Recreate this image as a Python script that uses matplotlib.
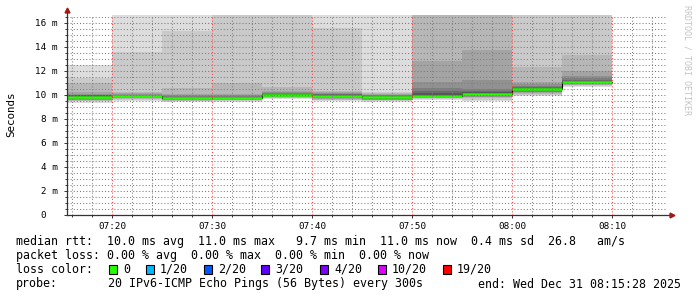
import matplotlib
matplotlib.use("Agg")
import matplotlib.pyplot as plt
from matplotlib.patches import Rectangle
import numpy as np

plt.rcParams['font.family'] = ['DejaVu Sans Mono']

W, H = 697, 297

# ---- data -------------------------------------------------------------
# end of each 5-minute step, minutes after 07:00
interval_end_min = [20, 25, 30, 35, 40, 45, 50, 55, 60, 65, 70]
step_minutes = 5
# sorted RTTs of the 20 pings per step (ms); values above the axis top are clipped
pings_ms = [
    [9.35, 9.45, 9.5, 9.55, 9.6, 9.65, 9.7, 9.74, 9.78, 9.82, 9.88, 9.92, 9.95, 9.98, 10.02, 10.08, 10.2, 11.0, 11.4, 12.5],
    [9.5, 9.58, 9.64, 9.7, 9.74, 9.78, 9.8, 9.82, 9.84, 9.86, 9.88, 9.9, 9.93, 9.96, 10.0, 10.05, 10.12, 10.2, 13.6, 17.5],
    [9.38, 9.45, 9.5, 9.55, 9.58, 9.6, 9.63, 9.65, 9.67, 9.69, 9.71, 9.74, 9.78, 9.82, 9.88, 9.95, 10.1, 10.55, 15.3, 17.8],
    [9.4, 9.48, 9.53, 9.57, 9.6, 9.63, 9.66, 9.68, 9.7, 9.72, 9.74, 9.77, 9.8, 9.85, 9.9, 10.0, 10.1, 10.95, 17.0, 18.5],
    [9.63, 9.7, 9.76, 9.8, 9.85, 9.88, 9.92, 9.95, 9.97, 9.99, 10.01, 10.04, 10.07, 10.1, 10.15, 10.22, 10.3, 10.65, 17.2, 18.8],
    [9.48, 9.55, 9.6, 9.65, 9.7, 9.75, 9.8, 9.84, 9.88, 9.91, 9.95, 9.98, 10.02, 10.06, 10.1, 10.15, 10.22, 10.35, 15.6, 18.0],
    [9.4, 9.48, 9.53, 9.57, 9.6, 9.64, 9.68, 9.72, 9.76, 9.79, 9.81, 9.84, 9.88, 9.92, 9.96, 10.0, 10.08, 10.15, 10.2, 17.6],
    [9.6, 9.66, 9.72, 9.76, 9.8, 9.84, 9.87, 9.9, 9.92, 9.93, 9.95, 10.0, 10.15, 10.35, 10.6, 11.1, 12.8, 17.5, 18.2, 19.0],
    [9.45, 9.6, 9.7, 9.78, 9.85, 9.9, 9.95, 9.99, 10.02, 10.05, 10.09, 10.13, 10.2, 10.3, 10.45, 11.2, 13.7, 17.8, 18.5, 19.5],
    [9.9, 10.0, 10.1, 10.15, 10.2, 10.26, 10.32, 10.38, 10.42, 10.46, 10.5, 10.54, 10.58, 10.62, 10.75, 10.9, 11.1, 12.3, 17.5, 18.5],
    [10.62, 10.7, 10.78, 10.84, 10.9, 10.94, 10.98, 11.01, 11.04, 11.06, 11.08, 11.12, 11.16, 11.23, 11.4, 11.6, 12.0, 13.3, 17.8, 18.6],
]
x_start_min = 15 + 28 / 60
x_end_min = 75 + 28 / 60
y_top_ms = 16.64

x_tick_min = [20, 30, 40, 50, 60, 70]
x_tick_labels = ["07:20", "07:30", "07:40", "07:50", "08:00", "08:10"]
y_tick_ms = [0, 2, 4, 6, 8, 10, 12, 14, 16]
y_tick_labels = ["0  ", "2 m", "4 m", "6 m", "8 m", "10 m", "12 m", "14 m", "16 m"]

loss_labels = ["0", "1/20", "2/20", "3/20", "4/20", "10/20", "19/20"]
loss_colors = ["#26ff00", "#00b8ff", "#0059ff", "#5e00ff", "#7e00ff", "#dd00ff", "#ff0000"]

median_line = "median rtt:  10.0 ms avg  11.0 ms max   9.7 ms min  11.0 ms now  0.4 ms sd  26.8   am/s"
loss_line = "packet loss: 0.00 % avg  0.00 % max  0.00 % min  0.00 % now"
probe_text = "20 IPv6-ICMP Echo Pings (56 Bytes) every 300s"
end_text = "end: Wed Dec 31 08:15:28 2025"

# ---- figure -----------------------------------------------------------
fig = plt.figure(figsize=(W / 100, H / 100), dpi=100)
fig.patch.set_facecolor("white")
ax_l, ax_r, ax_t, ax_b = 67, 667, 15, 215
ax = fig.add_axes([ax_l / W, 1 - ax_b / H, (ax_r - ax_l) / W, (ax_b - ax_t) / H])
ax.set_facecolor("white")

n_layers = 10
for end, p in zip(interval_end_min, pings_ms):
    p = sorted(p)
    t0, t1 = end - step_minutes, end
    for i in range(n_layers):
        g = int(190 / n_layers * (n_layers - (i + 1))) + 50
        col = (g / 255, g / 255, g / 255)
        lo, hi = p[i], p[len(p) - 1 - i]
        ax.fill_between([t0, t1], [lo, lo], [hi, hi], color=col, lw=0,
                        zorder=1, antialiased=False)

medians = [(sorted(p)[9] + sorted(p)[10]) / 2 for p in pings_ms]
xs, ys = [], []
for end, m in zip(interval_end_min, medians):
    xs += [end - step_minutes, end]
    ys += [m, m]
ax.plot(xs, ys, color="black", lw=0.8, zorder=1.8)
for end, m in zip(interval_end_min, medians):
    ax.hlines(m, end - step_minutes, end, color=loss_colors[0], lw=1.8, zorder=2)

ax.set_xlim(x_start_min, x_end_min)
ax.set_ylim(0, y_top_ms)

ax.set_xticks(x_tick_min)
ax.set_xticklabels(x_tick_labels)
ax.set_xticks(np.arange(16, 76, 2), minor=True)
ax.set_yticks(y_tick_ms)
ax.set_yticklabels(y_tick_labels)
ax.set_yticks(np.arange(0, 16.6, 0.5), minor=True)

ax.set_axisbelow(False)
ax.grid(which="major", color=(1.0, 0.25, 0.25, 0.4), lw=0.75, ls=(0, (1, 2)))
ax.grid(which="minor", color=(0.5, 0.5, 0.5, 0.28), lw=0.75, ls=(0, (1, 2)))

ax.tick_params(which="major", length=2.2, width=0.7, color="#333333",
               labelsize=6.7, pad=4.5, labelcolor="#000000")
ax.tick_params(which="minor", length=1.5, width=0.7, color="#333333")
ax.tick_params(axis="x", which="major", pad=3)

for s in ax.spines.values():
    s.set_visible(False)

# custom axis lines with arrows (rrdtool style)
ax.plot([0, 0], [0, 1.02], transform=ax.transAxes, color="#333333", lw=0.9,
        clip_on=False, zorder=5)
ax.plot([0, 1.005], [0, 0], transform=ax.transAxes, color="#333333", lw=0.9,
        clip_on=False, zorder=5)
ax.plot([0], [1.025], marker="^", ms=3.5, color="#a01818", transform=ax.transAxes,
        clip_on=False, zorder=6)
ax.plot([1.0075], [0], marker=">", ms=3.5, color="#a01818", transform=ax.transAxes,
        clip_on=False, zorder=6)

# y label
fig.text(11 / W, 1 - 114 / H, "Seconds", rotation=90, ha="center", va="center",
         fontsize=7.8, color="black")
# watermark
fig.text(687 / W, 1 - 60 / H, "RRDTOOL / TOBI OETIKER", rotation=270,
         ha="center", va="center", fontsize=6, color="#c4c4c4")


def ftext(x, y, s, **kw):
    fig.text(x / W, 1 - y / H, s, ha="left", va="center", fontsize=8.4,
             color="black", **kw)


row_y = [241, 255.5, 269.5, 284]
ftext(16, row_y[0], median_line)
ftext(16, row_y[1], loss_line)
ftext(16, row_y[2], "loss color:")
sq_x = [109, 146, 204, 261, 320, 378, 443]
for x, lab, col in zip(sq_x, loss_labels, loss_colors):
    fig.patches.append(Rectangle((x / W, 1 - (row_y[2] + 4.5) / H), 8 / W, 9 / H,
                                 transform=fig.transFigure, facecolor=col,
                                 edgecolor="black", lw=0.8))
    ftext(x + 14, row_y[2], lab)
ftext(16, row_y[3], "probe:")
ftext(108, row_y[3], probe_text)
ftext(478, row_y[3], end_text)

fig.savefig("out.png", dpi=100, facecolor="white")
